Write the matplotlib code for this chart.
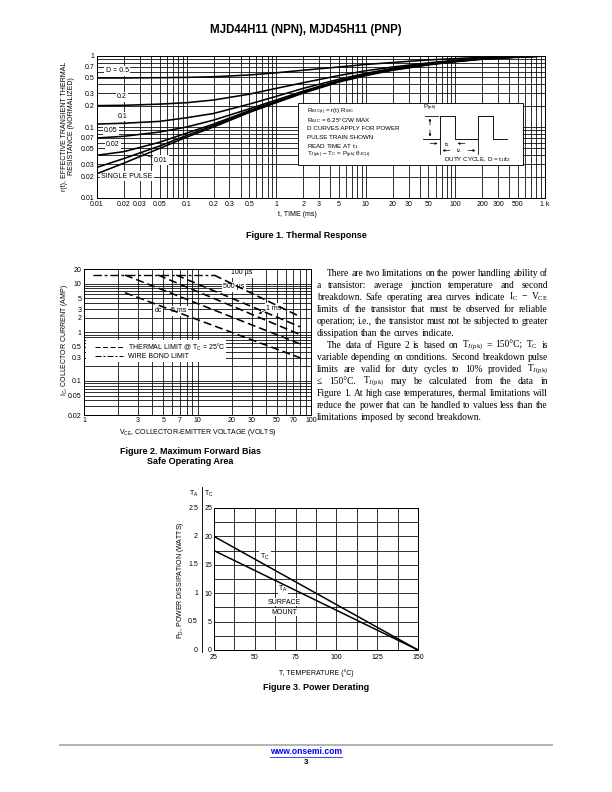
import matplotlib
matplotlib.use('Agg')
import matplotlib.pyplot as plt
import matplotlib.transforms as mtransforms
from matplotlib.patches import Rectangle

plt.rcParams['font.family'] = ['Liberation Sans Narrow', 'Liberation Sans', 'DejaVu Sans']
plt.rcParams['mathtext.fontset'] = 'custom'
plt.rcParams['mathtext.rm'] = 'Liberation Sans Narrow'
plt.rcParams['mathtext.it'] = 'Liberation Sans Narrow:italic'
plt.rcParams['mathtext.bf'] = 'Liberation Sans Narrow:bold'
plt.rcParams['mathtext.default'] = 'regular'

# ---- Figure 1: thermal response, r(t) vs t (ms) ----
t_ms = [0.01, 0.02, 0.05, 0.1, 0.2, 0.5, 1, 2, 5, 10, 20, 50, 100, 200, 500, 1000]
r_d05 = [0.49, 0.49, 0.495, 0.50, 0.51, 0.54, 0.58, 0.63, 0.70, 0.76, 0.81, 0.88, 0.92, 0.96, 0.99, 1.0]
r_d02 = [0.20, 0.202, 0.21, 0.22, 0.24, 0.29, 0.35, 0.42, 0.53, 0.62, 0.70, 0.80, 0.87, 0.93, 0.98, 1.0]
r_d01 = [0.11, 0.113, 0.12, 0.135, 0.155, 0.21, 0.27, 0.35, 0.47, 0.57, 0.67, 0.78, 0.86, 0.92, 0.975, 1.0]
r_d005 = [0.070, 0.074, 0.085, 0.10, 0.125, 0.18, 0.24, 0.32, 0.45, 0.55, 0.65, 0.77, 0.85, 0.915, 0.97, 1.0]
r_d002 = [0.040, 0.045, 0.061, 0.082, 0.11, 0.17, 0.23, 0.31, 0.44, 0.545, 0.645, 0.76, 0.845, 0.91, 0.97, 1.0]
r_d001 = [0.027, 0.036, 0.054, 0.076, 0.105, 0.165, 0.225, 0.305, 0.44, 0.54, 0.64, 0.76, 0.84, 0.91, 0.97, 1.0]
r_single = [0.022, 0.031, 0.050, 0.072, 0.10, 0.16, 0.22, 0.30, 0.43, 0.53, 0.63, 0.75, 0.83, 0.90, 0.96, 1.0]
t_ticks = [0.01, 0.02, 0.03, 0.05, 0.1, 0.2, 0.3, 0.5, 1, 2, 3, 5, 10, 20, 30, 50, 100, 200, 300, 500, 1000]
t_labels = ['0.01', '0.02', '0.03', '0.05', '0.1', '0.2', '0.3', '0.5', '1', '2', '3', '5',
            '10', '20', '30', '50', '100', '200', '300', '500', '1 k']
r_ticks = [0.01, 0.02, 0.03, 0.05, 0.07, 0.1, 0.2, 0.3, 0.5, 0.7, 1]
r_labels = ['0.01', '0.02', '0.03', '0.05', '0.07', '0.1', '0.2', '0.3', '0.5', '0.7', '1']

# ---- Figure 2: safe operating area ----
v_100us = [14, 80];  i_100us = [15, 2.1]
v_500us = [6.5, 80]; i_500us = [15, 1.3]
v_1ms = [4.5, 80];   i_1ms = [15, 0.9]
v_5ms = [2.3, 80];   i_5ms = [15, 0.58]
v_dc = [2.3, 80];    i_dc = [6.5, 0.3]
v_wire = [1.2, 14];  i_wire = [15, 15]
v_ticks = [1, 3, 5, 7, 10, 20, 30, 50, 70, 100]
i_ticks = [0.02, 0.05, 0.1, 0.3, 0.5, 1, 2, 3, 5, 10, 20]

# ---- Figure 3: power derating ----
temp_c = [25, 150]
pd_tc = [20, 0]      # watts, T_C scale
pd_ta = [1.75, 0]    # watts, T_A scale (x10 on plot)
temp_ticks = [25, 50, 75, 100, 125, 150]
tc_ticks = [0, 5, 10, 15, 20, 25]
ta_labels = ['0', '0.5', '1', '1.5', '2', '2.5']

W, H = 612, 792
fig = plt.figure(figsize=(8.5, 11), dpi=72)
px = mtransforms.Affine2D().scale(1 / W, -1 / H).translate(0, 1) + fig.transFigure
BOLD = ['Liberation Sans', 'DejaVu Sans']
FS = 7


def add_ax(x0, y0, x1, y1):
    return fig.add_axes([x0 / W, 1 - y1 / H, (x1 - x0) / W, (y1 - y0) / H])


def lab(ax, x, y, s, size=FS, **kw):
    kw.setdefault('ha', 'center')
    kw.setdefault('va', 'center')
    return ax.text(x, y, s, transform=px, fontsize=size, clip_on=False, **kw)


def wbox(ax, x, y, s, size=FS, pad=1.2, **kw):
    return lab(ax, x, y, s, size, zorder=2.5,
               bbox=dict(facecolor='white', edgecolor='none', pad=pad), **kw)


def pline(ax, xs, ys, **kw):
    kw.setdefault('color', 'black')
    kw.setdefault('lw', 0.8)
    kw.setdefault('zorder', 5)
    ax.plot(xs, ys, transform=px, clip_on=False, **kw)


def arrow(x0, y0, x1, y1):
    fig.add_artist(matplotlib.patches.FancyArrowPatch(
        (x0, y0), (x1, y1), transform=px, arrowstyle='-|>', mutation_scale=4.5,
        lw=0.7, color='black', zorder=6))


def log_grid(lo, hi):
    vals = []
    e = lo
    while e < hi * 0.999:
        vals += [k * e for k in range(1, 10)]
        e *= 10
    return [v for v in vals if v <= hi * 1.0001] + [hi]


def style(ax):
    ax.tick_params(which='both', length=0, labelsize=FS, pad=2.5)
    ax.tick_params(which='minor', labelbottom=False, labelleft=False)
    ax.grid(which='both', color='black', lw=0.8)
    ax.set_axisbelow(True)
    for s in ax.spines.values():
        s.set_linewidth(1.0)


# ================= Figure 1 =================
ax1 = add_ax(97, 56, 545, 198)
ax1.set_xscale('log')
ax1.set_yscale('log')
ax1.set_xlim(0.01, 1000)
ax1.set_ylim(0.01, 1)
for r in [r_d05, r_d02, r_d01, r_d005, r_d002, r_d001, r_single]:
    ax1.plot(t_ms, r, color='black', lw=1.6, zorder=3)
ax1.set_xticks(t_ticks, t_labels)
ax1.set_yticks(r_ticks, r_labels)
ax1.set_xticks(log_grid(0.01, 1000), minor=True)
ax1.set_yticks(log_grid(0.01, 1), minor=True)
style(ax1)

wbox(ax1, 117, 71, 'D = 0.5')
wbox(ax1, 122, 97, '0.2')
wbox(ax1, 123, 116.5, '0.1')
wbox(ax1, 111, 131, '0.05')
wbox(ax1, 113, 144.5, '0.02')
wbox(ax1, 161, 160, '0.01')
pline(ax1, [142, 152], [153.5, 157.5], zorder=2.6)
wbox(ax1, 127, 176, 'SINGLE PULSE')
lab(ax1, 68, 126, 'r(t), EFFECTIVE TRANSIENT THERMAL\nRESISTANCE (NORMALIZED)',
    rotation=90, linespacing=1.1)
lab(ax1, 297, 215, 't, TIME (ms)')

ax1.add_patch(Rectangle((298, 103), 225, 62, transform=px, facecolor='white',
                        edgecolor='black', lw=0.9, zorder=4, clip_on=False))
BS = 6.3
box_lines = [r'R$_{\theta JC(t)}$ = r(t) R$_{\theta JC}$',
             r'R$_{\theta JC}$ = 6.25°C/W MAX',
             'D CURVES APPLY FOR POWER',
             'PULSE TRAIN SHOWN',
             r'READ TIME AT t$_1$',
             r'T$_{J(pk)}$ − T$_C$ = P$_{(pk)}$ θ$_{JC(t)}$']
for k, s in enumerate(box_lines):
    lab(ax1, 307, 111.5 + 8.7 * k, s, size=BS, ha='left', zorder=6)
pline(ax1, [423, 440, 440, 455, 455, 478, 478, 493, 493, 507],
      [139, 139, 116, 116, 139, 139, 116, 116, 139, 139], lw=0.9)
pline(ax1, [425, 438], [116, 116])
arrow(430, 127, 430, 116.5)
arrow(430, 128, 430, 138.5)
lab(ax1, 423, 108, r'P$_{(pk)}$', size=BS, ha='left', zorder=6)
pline(ax1, [440, 440], [139, 154])
pline(ax1, [478, 478], [139, 154])
arrow(428, 143.5, 439.5, 143.5)
arrow(467, 143.5, 455.5, 143.5)
lab(ax1, 447, 144.5, r't$_1$', size=BS, zorder=6)
arrow(452, 150.5, 440.5, 150.5)
arrow(466, 150.5, 477.5, 150.5)
lab(ax1, 459, 151, r't$_2$', size=BS, zorder=6)
lab(ax1, 477, 159.5, r'DUTY CYCLE, D = t$_1$/t$_2$', size=BS, zorder=6)

# ================= Figure 2 =================
ax2 = add_ax(84, 269, 311, 415)
ax2.set_xscale('log')
ax2.set_yscale('log')
ax2.set_xlim(1, 100)
ax2.set_ylim(0.02, 20)
dash = (0, (5, 2.5))
for v, i in [(v_100us, i_100us), (v_500us, i_500us), (v_1ms, i_1ms),
             (v_5ms, i_5ms), (v_dc, i_dc)]:
    ax2.plot(v, i, color='black', lw=1.6, ls=dash, zorder=3)
ax2.plot(v_wire, i_wire, color='black', lw=1.4, ls=(0, (6, 2, 2, 2)), zorder=3)
ax2.set_xticks(v_ticks, [str(v) for v in v_ticks])
ax2.set_yticks(i_ticks, [f'{v:g}' for v in i_ticks])
ax2.set_xticks(log_grid(1, 100), minor=True)
ax2.set_yticks([k * 0.01 for k in range(2, 10)] + log_grid(0.1, 10) + [20], minor=True)
style(ax2)

wbox(ax2, 242, 273, '100 µs')
wbox(ax2, 234, 287, '500 µs')
wbox(ax2, 158, 311, 'dc')
wbox(ax2, 179, 311, '5 ms')
wbox(ax2, 274, 308, '1 ms')
arrow(267, 309, 257, 315)
ax2.add_patch(Rectangle((86, 340), 140, 22, transform=px, facecolor='white',
                        edgecolor='none', zorder=4, clip_on=False))
pline(ax2, [95, 123], [347, 347], lw=1.0, ls=(0, (5, 2.5)))
pline(ax2, [95, 123], [356, 356], lw=1.0, ls=(0, (6, 2, 2, 2)))
lab(ax2, 128, 347, r'THERMAL LIMIT @ T$_C$ = 25°C', ha='left', zorder=6)
lab(ax2, 128, 356, 'WIRE BOND LIMIT', ha='left', zorder=6)
lab(ax2, 64, 340, r'I$_C$, COLLECTOR CURRENT (AMP)', rotation=90)
lab(ax2, 198, 433, r'V$_{CE}$, COLLECTOR-EMITTER VOLTAGE (VOLTS)')

# ================= Figure 3 =================
ax3 = add_ax(214, 508, 418, 650)
ax3.set_xlim(25, 150)
ax3.set_ylim(0, 25)
ax3.plot(temp_c, pd_tc, color='black', lw=1.5, zorder=3)
ax3.plot(temp_c, [p * 10 for p in pd_ta], color='black', lw=1.5, zorder=3)
ax3.set_xticks(temp_ticks, [str(t) for t in temp_ticks])
ax3.set_yticks(tc_ticks, [str(t) for t in tc_ticks])
ax3.set_xticks([25 + 12.5 * k for k in range(11)], minor=True)
ax3.set_yticks([2.5 * k for k in range(11)], minor=True)
style(ax3)
ax3.tick_params(axis='y', pad=2)
ax3.tick_params(axis='x', pad=4)
ta_tr = mtransforms.blended_transform_factory(px, ax3.transData)
for tc, s in zip(tc_ticks, ta_labels):
    ax3.text(198, tc, s, transform=ta_tr, ha='right', va='center', fontsize=FS, clip_on=False)
pline(ax3, [201.5, 201.5], [487, 652], lw=0.9)
lab(ax3, 194, 494, r'T$_A$')
lab(ax3, 209, 494, r'T$_C$')
wbox(ax3, 265, 557, r'T$_C$')
wbox(ax3, 283, 589, r'T$_A$', pad=0.6)
wbox(ax3, 284, 602, 'SURFACE', pad=0.6)
wbox(ax3, 284, 612, 'MOUNT', pad=0.6)
lab(ax3, 181, 580, r'P$_D$, POWER DISSIPATION (WATTS)', rotation=90)
lab(ax3, 316, 673, 'T, TEMPERATURE (°C)')

# ================= page text =================
fig.text(306, 30, 'MJD44H11 (NPN), MJD45H11 (PNP)', transform=px, ha='center', va='center',
         fontsize=11.5, fontweight='bold', family=BOLD)
for x, y, s in [(306, 236, 'Figure 1. Thermal Response'),
                (190, 451, 'Figure 2. Maximum Forward Bias'),
                (190, 462, 'Safe Operating Area'),
                (316, 688, 'Figure 3. Power Derating')]:
    fig.text(x, y, s, transform=px, ha='center', va='center', fontsize=9,
             fontweight='bold', family=BOLD)

para = [
    ('There are two limitations on the power handling ability of', True, True),
    ('a transistor: average junction temperature and second', False, True),
    ('breakdown. Safe operating area curves indicate I$_C$ − V$_{CE}$', False, True),
    ('limits of the transistor that must be observed for reliable', False, True),
    ('operation; i.e., the transistor must not be subjected to greater', False, True),
    ('dissipation than the curves indicate.', False, False),
    ('The data of Figure 2 is based on T$_{J(pk)}$ = 150°C; T$_C$ is', True, True),
    ('variable depending on conditions. Second breakdown pulse', False, True),
    ('limits are valid for duty cycles to 10% provided T$_{J(pk)}$', False, True),
    ('≤ 150°C.  T$_{J(pk)}$ may be calculated from the data in', False, True),
    ('Figure 1. At high case temperatures, thermal limitations will', False, True),
    ('reduce the power that can be handled to values less than the', False, True),
    ('limitations imposed by second breakdown.', False, False),
]
renderer = fig.canvas.get_renderer()
SERIF = ['Liberation Serif', 'DejaVu Serif']
X0, X1, INDENT = 317, 548, 327


def measure(words, size):
    arts = [fig.text(0, 0, w, transform=px, fontsize=size, family=SERIF,
                     math_fontfamily='stix', ha='left', va='baseline') for w in words]
    return arts, [a.get_window_extent(renderer).width for a in arts]


# largest size at which every justified line keeps a normal space
size = 10.0
while size > 8:
    ok = True
    for line, indent, just in para:
        words = line.split()
        arts, widths = measure(words, size)
        for a in arts:
            a.remove()
        room = X1 - (INDENT if indent else X0)
        if just and sum(widths) + (len(words) - 1) * size * 0.22 > room:
            ok = False
            break
    if ok:
        break
    size -= 0.1

for k, (line, indent, just) in enumerate(para):
    y = 275.5 + 12 * k
    x0 = INDENT if indent else X0
    words = line.split()
    arts, widths = measure(words, size)
    gap = (X1 - x0 - sum(widths)) / (len(words) - 1) if just else size * 0.25
    x = x0
    for a, w in zip(arts, widths):
        a.set_position((x, y))
        x += w + gap

fig.add_artist(plt.Line2D([60, 552], [745, 745], transform=px, color='#b4b4b4', lw=2))
url = fig.text(306, 752, 'www.onsemi.com', transform=px, ha='center', va='center',
               fontsize=8.5, fontweight='bold', color='#0000ee', family=BOLD)
uw = url.get_window_extent(renderer).width
fig.add_artist(plt.Line2D([306 - uw / 2, 306 + uw / 2], [757, 757], transform=px,
                          color='#0000ee', lw=0.7))
fig.text(306, 762.5, '3', transform=px, ha='center', va='center', fontsize=8,
         fontweight='bold', family=BOLD)

fig.savefig('out.png', dpi=72)
